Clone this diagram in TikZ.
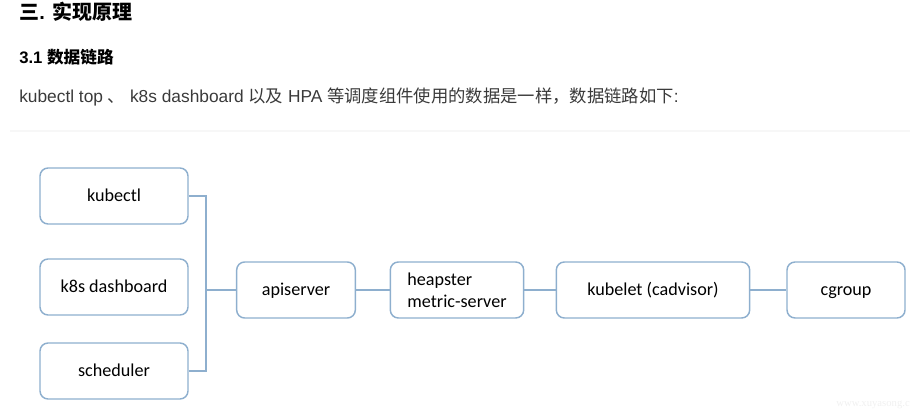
\documentclass[tikz,border=0pt]{standalone}
\usepackage{fontspec}
\setmainfont{Liberation Sans}
\newfontfamily\cjk{Noto Sans CJK SC}
\newfontfamily\boxfont{Carlito}
\newfontfamily\markfont{Liberation Serif}
\usetikzlibrary{positioning}
\definecolor{boxblue}{HTML}{8EAFCE}
\definecolor{bodytext}{HTML}{3A3A3A}
\begin{document}
\begin{tikzpicture}[x=0.75pt, y=-0.75pt]

	\tikzstyle{caja}=[draw=boxblue, line width=1.1pt, rounded corners=6pt, minimum height=42pt, font=\boxfont\fontsize{13.6}{16.5}\selectfont, inner sep=0pt]
	\tikzstyle{linea}=[text height=10pt, text depth=1.5pt]
	\tikzstyle{enlace}=[draw=boxblue, line width=1.1pt]
	\tikzstyle{titulo}=[anchor=west, inner sep=0pt, font=\bfseries]

	\useasboundingbox (0,0) rectangle (910,420);

	\coordinate (t_1) at (19, 12);
	\coordinate (t_2) at (19, 57);
	\coordinate (t_3) at (19, 97);

	\coordinate (c_1) at (114, 196); % CLIENTES
	\coordinate (c_2) at (114, 287); % CLIENTES
	\coordinate (c_3) at (114, 371); % CLIENTES
	\coordinate (api) at (296, 290);
	\coordinate (heap) at (457, 290);
	\coordinate (kube) at (653, 290);
	\coordinate (cg) at (846, 290);
	\coordinate (bus) at (206, 290);

	\node[titulo, font=\bfseries\fontsize{15}{18}\selectfont] (t_1) at (t_1) {{\cjk 三}. {\cjk 实现原理}};
	\node[titulo, font=\bfseries\fontsize{12.5}{15}\selectfont] (t_2) at (t_2) {3.1 {\cjk 数据链路}};
	\node[titulo, font=\fontsize{13}{16}\selectfont, text=bodytext] (t_3) at (t_3) {kubectl top {\cjk 、} k8s dashboard {\cjk 以及} HPA {\cjk 等调度组件使用的数据是一样，数据链路如下}:};

	\draw[black!3, line width=1.5pt] (10, 131) -- (910, 131);

	\node[caja, linea, minimum width=111pt] (c_1) at (c_1) {kubectl}; % CLIENTES
	\node[caja, linea, minimum width=111pt] (c_2) at (c_2) {k8s dashboard}; % CLIENTES
	\node[caja, linea, minimum width=111pt] (c_3) at (c_3) {scheduler}; % CLIENTES
	\node[caja, linea, minimum width=89pt] (api) at (api) {apiserver};
	\node[caja, minimum width=100pt, align=left] (heap) at (heap) {heapster\\metric-server};
	\node[caja, linea, minimum width=145pt] (kube) at (kube) {kubelet (cadvisor)};
	\node[caja, linea, minimum width=88.5pt] (cg) at (cg) {cgroup};

	\node[anchor=east, inner sep=0pt, text=black!6, font=\markfont\fontsize{8}{10}\selectfont] (marca) at (910, 405) {www.xuyasong.c};

	\draw[enlace] (c_1.east) -| (bus);
	\draw[enlace] (c_3.east) -| (bus);
	\draw[enlace] (bus) -- (api.west);
	\draw[enlace] (api) -- (heap);
	\draw[enlace] (heap) -- (kube);
	\draw[enlace] (kube) -- (cg);
\end{tikzpicture}
\end{document}
